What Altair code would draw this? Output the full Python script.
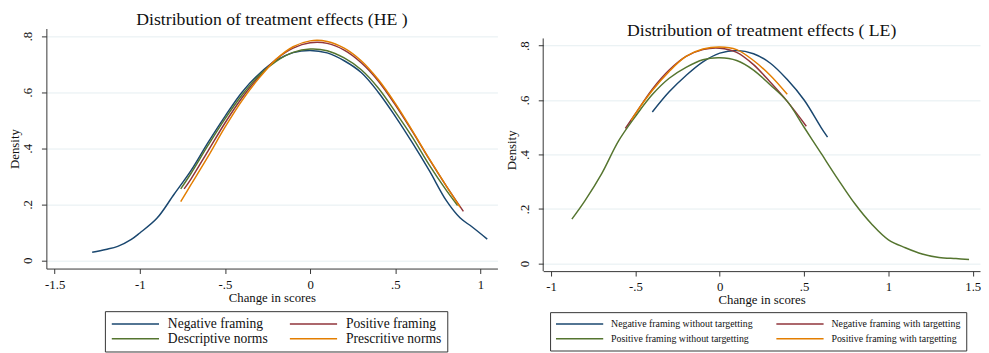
import altair as alt
import pandas as pd

# ---------------- HE panel (left) ----------------
he_names = ["Negative framing", "Positive framing", "Descriptive norms", "Prescritive norms"]
he_colors = ["#1a476f", "#90353b", "#55752f", "#e37e00"]

he_neg_x = [-1.28, -1.2, -1.13, -1.05, -1.0, -0.9, -0.8, -0.7, -0.6, -0.5, -0.4, -0.3, -0.2, -0.1, 0.0,
            0.1, 0.2, 0.3, 0.4, 0.5, 0.6, 0.7, 0.8, 0.88, 0.95, 1.04]
he_neg_y = [0.029, 0.039, 0.05, 0.075, 0.098, 0.15, 0.235, 0.32, 0.42, 0.514, 0.6, 0.665, 0.713, 0.741, 0.749,
            0.74, 0.712, 0.67, 0.6, 0.514, 0.42, 0.32, 0.213, 0.152, 0.12, 0.076]

he_pos_x = [-0.74, -0.7, -0.6, -0.5, -0.4, -0.3, -0.2, -0.1, 0.0, 0.1, 0.2, 0.3, 0.4, 0.5, 0.6, 0.7, 0.8, 0.9]
he_pos_y = [0.255, 0.29, 0.39, 0.49, 0.58, 0.655, 0.717, 0.757, 0.776, 0.774, 0.75, 0.705, 0.64, 0.555, 0.46,
            0.36, 0.265, 0.175]

he_des_x = [-0.76, -0.7, -0.6, -0.5, -0.4, -0.3, -0.2, -0.1, 0.0, 0.1, 0.2, 0.3, 0.4, 0.5, 0.6, 0.7, 0.8, 0.866]
he_des_y = [0.255, 0.31, 0.41, 0.505, 0.59, 0.66, 0.71, 0.742, 0.754, 0.748, 0.722, 0.68, 0.615, 0.53, 0.44,
            0.34, 0.25, 0.196]

he_pre_x = [-0.76, -0.7, -0.6, -0.5, -0.4, -0.3, -0.2, -0.1, 0.0, 0.1, 0.2, 0.3, 0.4, 0.5, 0.6, 0.7, 0.8, 0.88]
he_pre_y = [0.21, 0.27, 0.37, 0.475, 0.57, 0.65, 0.717, 0.762, 0.783, 0.781, 0.757, 0.712, 0.645, 0.56, 0.463,
            0.362, 0.265, 0.19]

# ---------------- LE panel (right) ----------------
le_names = ["Negative framing without targetting", "Negative framing with targetting",
            "Positive framing without targetting", "Positive framing with targetting"]
le_colors = ["#1a476f", "#90353b", "#55752f", "#e37e00"]

le_negwo_x = [-0.4, -0.3, -0.2, -0.1, 0.0, 0.1, 0.2, 0.3, 0.4, 0.5, 0.6, 0.639]
le_negwo_y = [0.556, 0.63, 0.69, 0.74, 0.772, 0.782, 0.77, 0.735, 0.675, 0.6, 0.5, 0.464]

le_negw_x = [-0.56, -0.5, -0.4, -0.3, -0.2, -0.1, 0.0, 0.1, 0.2, 0.3, 0.4, 0.513]
le_negw_y = [0.496, 0.55, 0.64, 0.71, 0.76, 0.785, 0.79, 0.775, 0.73, 0.665, 0.595, 0.504]

le_poswo_x = [-0.877, -0.8, -0.7, -0.6, -0.5, -0.4, -0.3, -0.2, -0.1, 0.0, 0.1, 0.2, 0.3, 0.4, 0.5, 0.6,
              0.7, 0.8, 0.9, 1.0, 1.1, 1.2, 1.3, 1.4, 1.478]
le_poswo_y = [0.163, 0.23, 0.33, 0.45, 0.54, 0.62, 0.68, 0.72, 0.748, 0.755, 0.745, 0.71, 0.655, 0.595, 0.5,
              0.405, 0.31, 0.22, 0.145, 0.087, 0.058, 0.035, 0.022, 0.018, 0.015]

le_posw_x = [-0.525, -0.5, -0.4, -0.3, -0.2, -0.1, 0.0, 0.1, 0.2, 0.3, 0.4]
le_posw_y = [0.525, 0.55, 0.635, 0.705, 0.76, 0.787, 0.795, 0.785, 0.745, 0.69, 0.621]

he_xticks = [-1.5, -1, -0.5, 0, 0.5, 1]
le_xticks = [-1, -0.5, 0, 0.5, 1, 1.5]
yticks = [0, 0.2, 0.4, 0.6, 0.8]


def build(series):
    rows = []
    for name, xs, ys in series:
        for i, (x, y) in enumerate(zip(xs, ys)):
            rows.append({"series": name, "x": x, "y": y, "order": i})
    return pd.DataFrame(rows)


he_df = build([(he_names[0], he_neg_x, he_neg_y), (he_names[1], he_pos_x, he_pos_y),
               (he_names[2], he_des_x, he_des_y), (he_names[3], he_pre_x, he_pre_y)])
le_df = build([(le_names[0], le_negwo_x, le_negwo_y), (le_names[1], le_negw_x, le_negw_y),
               (le_names[2], le_poswo_x, le_poswo_y), (le_names[3], le_posw_x, le_posw_y)])

stata_fmt = ("datum.value == 0 ? '0' : (abs(datum.value) < 1 ? (datum.value < 0 ? '-' : '') + "
             "substring('' + abs(datum.value), 1) : '' + datum.value)")

SERIF = "Liberation Serif"


def lines(df, names, colors, xdom, ydom, xticks, lx, ly, lsize, colpad, lpad, loff, ydomain_line=True):
    # legend fills row-major, so order the legend entries col1,col2,col1,col2
    legend_order = [names[0], names[2], names[1], names[3]]
    legend_colors = [colors[0], colors[2], colors[1], colors[3]]
    color = alt.Color(
        "series:N",
        scale=alt.Scale(domain=legend_order, range=legend_colors),
        sort=legend_order,
        legend=alt.Legend(
            title=None, orient="none", legendX=lx, legendY=ly, columns=2,
            symbolType="stroke", symbolSize=2304, symbolStrokeWidth=1.5,
            clipHeight=14, rowPadding=1, columnPadding=colpad, labelOffset=loff,
            labelFont=SERIF, labelFontSize=lsize, labelColor="#111", labelLimit=0,
            strokeColor="#333", padding=lpad, fillColor="white",
        ),
    )
    return (
        alt.Chart(df)
        .mark_line(strokeWidth=1.5, interpolate="catmull-rom", clip=True)
        .encode(
            x=alt.X("x:Q", scale=alt.Scale(domain=xdom, nice=False, zero=False),
                    axis=alt.Axis(values=xticks, title="Change in scores", labelExpr=stata_fmt,
                                  grid=False, tickSize=5, labelPadding=5, titlePadding=0)),
            y=alt.Y("y:Q", scale=alt.Scale(domain=ydom, nice=False, zero=False),
                    axis=alt.Axis(values=yticks, title="Density", labelExpr=stata_fmt,
                                  labelAngle=270, labelAlign="center", labelBaseline="bottom",
                                  grid=True, tickSize=5, labelPadding=7, titlePadding=0,
                                  domain=ydomain_line)),
            color=color,
            detail="series:N",
            order="order:Q",
        )
    )


def title(text, dy):
    return alt.TitleParams(text, font=SERIF, fontSize=18, fontWeight="normal",
                           color="#111", offset=0, dy=dy)


left = lines(he_df, he_names, he_colors, [-1.549, 1.1], [-0.029, 0.827], he_xticks,
             59.5, 287.3, 13.8, 21, 6, 8).properties(
    width=458.5, height=244, title=title("Distribution of treatment effects (HE )", 0))

# right panel: plot area starts lower than the left one; extend the domain up and
# draw the y-axis line only over the visible range of the reference axis
right_lines = lines(le_df, le_names, le_colors, [-1.047, 1.543], [-0.028, 0.8625], le_xticks,
                    7, 288.3, 10, 23, 5, 7, ydomain_line=False)
right_axis_line = (
    alt.Chart(alt.Data(values=[{}]))
    .mark_rule(color="#333", strokeWidth=1)
    .encode(x=alt.value(0), y=alt.datum(0.826), y2=alt.datum(-0.028))
)
right = alt.layer(right_lines, right_axis_line).properties(
    width=444, height=246.6, title=title("Distribution of treatment effects ( LE)", 11.5))

chart = (
    alt.hconcat(left, right, spacing=8)
    .resolve_scale(color="independent")
    .configure(padding={"left": 0, "top": 0, "right": 0, "bottom": 0}, background="white")
    .configure_view(stroke=None)
    .configure_axis(domainColor="#333", tickColor="#333", labelColor="#111", titleColor="#111",
                    labelFont=SERIF, titleFont=SERIF, labelFontSize=13, titleFontSize=13,
                    titleFontWeight="normal", gridColor="#e4eef1", gridWidth=1)
)

chart.save("out.html", embed_options={"renderer": "svg", "actions": False})
